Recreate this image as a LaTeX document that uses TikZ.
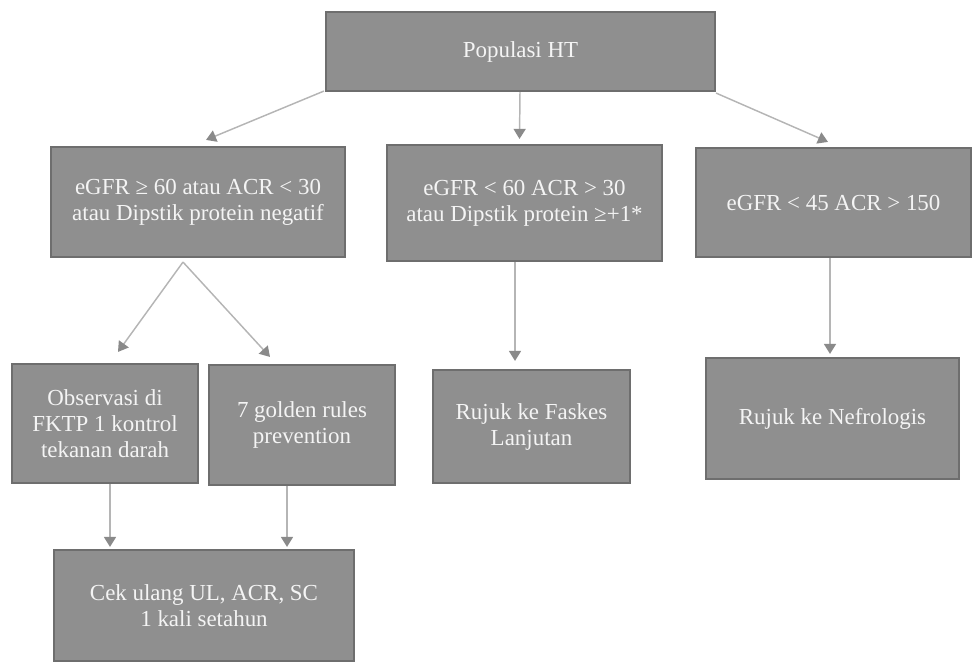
\documentclass[tikz,border=0pt]{standalone}
\usepackage{fontspec}
\setmainfont{Liberation Serif}
\usetikzlibrary{arrows.meta,calc}
\definecolor{boxfill}{HTML}{8F8F8F}
\definecolor{boxline}{HTML}{6E6E6E}
\definecolor{arrline}{HTML}{B5B5B5}
\definecolor{arrhead}{HTML}{8A8A8A}
\definecolor{txt}{HTML}{F4F4F4}
\tikzset{
  box/.style={draw=boxline, line width=1.6pt, fill=boxfill, text=txt,
    align=center, inner sep=2pt,
    font=\fontsize{17.2}{19.5}\selectfont},
  arr/.style={draw=arrline, line width=1.1pt,
    -{Triangle[width=9pt,length=7.5pt,color=arrhead,fill=arrhead]}}
}
\begin{document}
\begin{tikzpicture}[x=0.75pt,y=-0.75pt]
\useasboundingbox (0,0) rectangle (972,663);
\node[box, minimum width=291.75pt, minimum height=59.25pt] (A) at (520.5,51.5) {Populasi HT};
\node[box, minimum width=220.5pt, minimum height=82.5pt] (B) at (198,202) {eGFR ≥ 60 atau ACR < 30\\atau Dipstik protein negatif};
\node[box, minimum width=206.25pt, minimum height=87pt] (C) at (524.5,203) {eGFR < 60 ACR > 30\\atau Dipstik protein ≥+1*};
\node[box, minimum width=206.25pt, minimum height=81.75pt] (D) at (833.5,202.5) {eGFR < 45 ACR > 150};
\node[box, minimum width=139.5pt, minimum height=89.25pt] (E) at (105,423.5) {Observasi di\\FKTP 1 kontrol\\tekanan darah};
\node[box, minimum width=139.5pt, minimum height=90pt] (F) at (302,425) {7 golden rules\\prevention};
\node[box, minimum width=147.75pt, minimum height=84.75pt] (G) at (531.5,426.5) {Rujuk ke Faskes\\Lanjutan};
\node[box, minimum width=189.75pt, minimum height=90.75pt] (H) at (832.5,418.5) {Rujuk ke Nefrologis};
\node[box, minimum width=225pt, minimum height=83.25pt] (I) at (204,605.5) {Cek ulang UL, ACR, SC\\1 kali setahun};

\draw[arr] ($(A.south west)+(-1,-1)$) -- ($(B.north)+(8,-6)$);
\draw[arr] ($(A.south)+(-0.5,0)$) -- ($(C.north)+(-5,-5)$);
\draw[arr] ($(A.south east)+(0,1)$) -- ($(D.north)+(-5.5,-5)$);
\coordinate (bs) at ($(B.south)+(-15,4)$);
\draw[arr] (bs) -- ($(E.north)+(13,-11)$);
\draw[arr] (bs) -- ($(F.north)+(-32,-7)$);
\coordinate (cs) at ($(C.south)+(-9.5,0)$);
\draw[arr] (cs) -- ($(cs |- G.north)+(0,-8)$);
\coordinate (ds) at ($(D.south)+(-3.5,0)$);
\draw[arr] (ds) -- ($(ds |- H.north)+(0,-3)$);
\coordinate (es) at ($(E.south)+(5,0)$);
\draw[arr] (es) -- ($(es |- I.north)+(0,-2)$);
\coordinate (fs) at ($(F.south)+(-15,0)$);
\draw[arr] (fs) -- ($(fs |- I.north)+(0,-2)$);
\end{tikzpicture}
\end{document}
